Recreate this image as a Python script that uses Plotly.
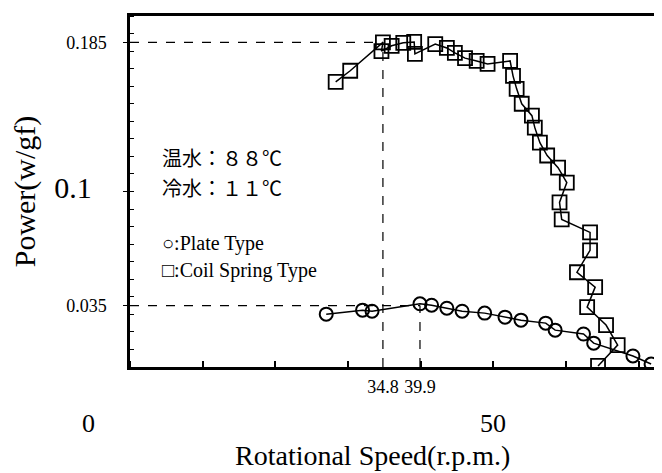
import plotly.graph_objects as go

# Coil spring type (squares)
coil_speed = [28.3, 30.3, 34.8, 34.6, 36.0, 37.6, 39.1, 39.2, 42.0, 43.6, 44.7, 46.1,
              47.7, 49.2, 52.3, 52.7, 53.2, 53.9, 55.3, 55.7, 56.4, 57.4, 58.9, 60.1,
              59.1, 59.4, 63.3, 63.3, 61.5, 64.0, 62.9, 65.5, 67.1, 64.4]
coil_power = [0.1625, 0.1688, 0.185, 0.180, 0.183, 0.1847, 0.1852, 0.1784, 0.184, 0.1818,
              0.179, 0.176, 0.1744, 0.1727, 0.1744, 0.1659, 0.1585, 0.150, 0.1432, 0.1364,
              0.1278, 0.1205, 0.1136, 0.1051, 0.0938, 0.0841, 0.0767, 0.0665, 0.054,
              0.0455, 0.0341, 0.0239, 0.0125, 0.0006]

# Plate type (circles)
plate_speed = [27.0, 32.0, 33.3, 39.9, 41.5, 43.6, 45.7, 48.8, 51.6, 53.8, 57.2, 58.5,
               62.4, 63.8, 69.2, 71.7]
plate_power = [0.0301, 0.0324, 0.0318, 0.036, 0.0352, 0.0335, 0.0318, 0.0307, 0.0284,
               0.0267, 0.025, 0.021, 0.0188, 0.0136, 0.0063, 0.0017]

# marked peaks
coil_peak = (34.8, 0.185)
plate_peak = (39.9, 0.035)

notes = ["温水：８８℃", "冷水：１１℃"]
note_y = [0.1193, 0.1023]
keys = ["○:Plate Type", "□:Coil Spring Type"]
key_y = [0.0705, 0.0551]

FONT = "Liberation Serif"

fig = go.Figure()
fig.add_trace(go.Scatter(x=coil_speed, y=coil_power, mode="lines+markers",
                         line=dict(color="black", width=1.5),
                         marker=dict(symbol="square-open", size=14, color="black",
                                     line=dict(width=1.8))))
fig.add_trace(go.Scatter(x=plate_speed, y=plate_power, mode="lines+markers",
                         line=dict(color="black", width=1.5),
                         marker=dict(symbol="circle-open", size=13, color="black",
                                     line=dict(width=2))))

# dashed guide lines
for px, py in [coil_peak, plate_peak]:
    fig.add_shape(type="line", x0=0, x1=px, y0=py, y1=py, xref="x", yref="y",
                  line=dict(color="black", width=1.2, dash="dash"))
    fig.add_shape(type="line", x0=px, x1=px, y0=0, y1=py, xref="x", yref="y",
                  line=dict(color="black", width=1.2, dash="dash"))

for t, y in zip(notes, note_y):
    fig.add_annotation(x=4.1, y=y, xref="x", yref="y", xanchor="left", yanchor="middle",
                       showarrow=False, text=t,
                       font=dict(family="Noto Sans CJK JP", size=20, color="black"))
for t, y in zip(keys, key_y):
    fig.add_annotation(x=4.1, y=y, xref="x", yref="y", xanchor="left", yanchor="middle",
                       showarrow=False, text=t,
                       font=dict(family=FONT, size=20, color="black"))

# big axis numbers
fig.add_annotation(x=0, y=0, xref="x", yref="paper", yanchor="middle", yshift=-56,
                   xshift=-42, showarrow=False, text="0",
                   font=dict(family=FONT, size=26, color="black"))
fig.add_annotation(x=50, y=0, xref="x", yref="paper", yanchor="middle", yshift=-56,
                   showarrow=False, text="50",
                   font=dict(family=FONT, size=26, color="black"))

# x title sits left of the plot centre in the original
fig.add_annotation(x=0.455, y=0, xref="paper", yref="paper", yanchor="middle",
                   yshift=-88, showarrow=False, text="Rotational Speed(r.p.m.)",
                   font=dict(family=FONT, size=28, color="black"))

# page body adds an 8px offset, so the figure is a little smaller than the window
fig.update_layout(
    width=654, height=465,
    margin=dict(l=122, r=0, t=8, b=106),
    paper_bgcolor="white", plot_bgcolor="white",
    showlegend=False,
    font=dict(family=FONT, color="black"),
    xaxis=dict(range=[0, 73.2], showgrid=False, zeroline=False, automargin=False,
               showline=True, linewidth=2.5, linecolor="black", mirror=True,
               tickvals=[coil_peak[0], plate_peak[0]], ticks="",
               tickfont=dict(size=18), ticklabelstandoff=2,
               minor=dict(tick0=0, dtick=10, ticks="inside", ticklen=6,
                          tickcolor="black", tickwidth=1.5)),
    yaxis=dict(range=[0, 0.2], showgrid=False, zeroline=False, automargin=False,
               showline=True, linewidth=2.5, linecolor="black", mirror=True,
               tickvals=[plate_peak[1], 0.1, coil_peak[1]],
               ticktext=["0.035", "<span style='font-size:30px'>0.1\u00a0\u00a0</span>", "0.185"],
               ticks="outside", ticklen=4, tickcolor="black",
               tickfont=dict(size=18), ticklabelstandoff=13,
               minor=dict(dtick=0.01, ticks="inside", ticklen=4,
                          tickcolor="black", tickwidth=1),
               title=dict(text="Power(w/gf)", font=dict(size=30), standoff=24)),
)

fig.write_html("out.html")
